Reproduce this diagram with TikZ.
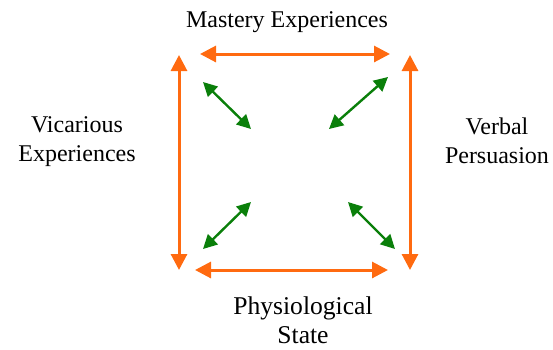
\documentclass[tikz,border=0pt]{standalone}
\usepackage{fontspec}
\setmainfont{Liberation Serif}
\usepackage{xcolor}
\usetikzlibrary{arrows.meta,positioning,calc}
\definecolor{sourceorange}{HTML}{FF6A10}
\definecolor{linkgreen}{HTML}{0A7F0A}
\tikzset{
  outer/.style = {draw=sourceorange, line width=1.5pt, {Triangle[length=8pt,width=8pt]}-{Triangle[length=8pt,width=8pt]}},
  inner/.style = {draw=linkgreen, line width=1.2pt, {Triangle[length=7pt,width=7pt]}-{Triangle[length=7pt,width=7pt]}},
  source/.style = {align=center, font=\fontsize{12}{14.5}\selectfont, inner sep=0pt}
}

\begin{document}
\begin{tikzpicture}[x = .5pt, y = -.5pt]
    \useasboundingbox (0,0) rectangle (553,349);
    \node[source] (mastery) at (287,22) {Mastery Experiences};
    \node[source] (vicarious) at (77,142) {Vicarious\\Experiences};
    \node[source] (verbal) at (497,141) {Verbal\\Persuasion};
    \node[source, font=\fontsize{12.8}{14.4}\selectfont] (physio) at (303,320) {Physiological\\State};
    %%%%%%%%%%
    \coordinate (topL) at (200,54);
    \coordinate (topR) at (390,54);
    \coordinate (botL) at (195,270);
    \coordinate (botR) at (388,270);
    \coordinate (leftT) at (179,55);
    \coordinate (leftB) at (179,270);
    \coordinate (rightT) at (410,55);
    \coordinate (rightB) at (410,270);
    %%%%%%%%%%
    \coordinate (nwOut) at (203,82);
    \coordinate (nwIn) at (251,129);
    \coordinate (neOut) at (388,77);
    \coordinate (neIn) at (329,129);
    \coordinate (swOut) at (203,249);
    \coordinate (swIn) at (251,202);
    \coordinate (seOut) at (395,249);
    \coordinate (seIn) at (348,202);
    %%%%%%%%%%
    \draw[outer] (topL) -- (topR);
    \draw[outer] (botL) -- (botR);
    \draw[outer] (leftT) -- (leftB);
    \draw[outer] (rightT) -- (rightB);
    \draw[inner] (nwOut) -- (nwIn);
    \draw[inner] (neOut) -- (neIn);
    \draw[inner] (swOut) -- (swIn);
    \draw[inner] (seOut) -- (seIn);
\end{tikzpicture}
\end{document}
